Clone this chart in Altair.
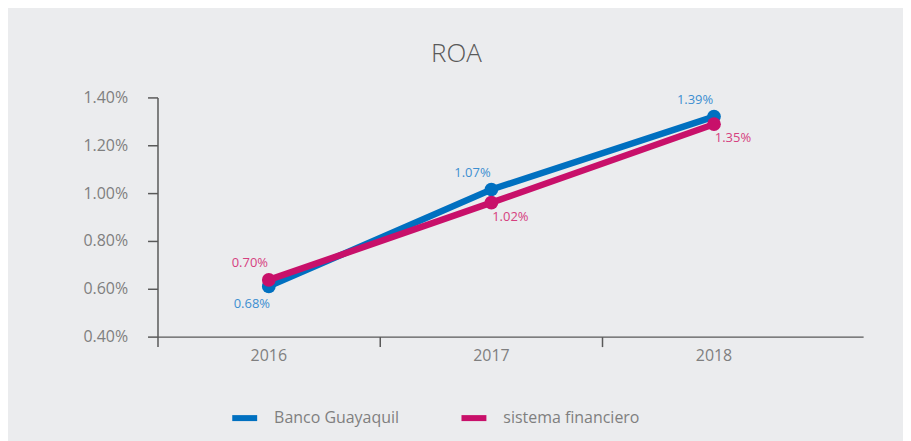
import altair as alt
import pandas as pd

years = ["2016", "2017", "2018"]
series = ["Banco Guayaquil", "sistema financiero"]
banco_vals = [0.61, 1.015, 1.32]          # plotted position (%)
sistema_vals = [0.637, 0.96, 1.288]
banco_labels = ["0.68%", "1.07%", "1.39%"]
sistema_labels = ["0.70%", "1.02%", "1.35%"]
y_ticks = [0.40, 0.60, 0.80, 1.00, 1.20, 1.40]

rows = []
for y, v, l in zip(years, banco_vals, banco_labels):
    rows.append({"year": y, "serie": series[0], "value": v / 100, "label": l})
for y, v, l in zip(years, sistema_vals, sistema_labels):
    rows.append({"year": y, "serie": series[1], "value": v / 100, "label": l})
df = pd.DataFrame(rows)

FONT = "Open Sans"
GRAY = "#7f7f7f"
AXIS = "#595959"
BLUE = "#0070c0"
MAG = "#c8106a"

x = alt.X("year:N", title=None,
          scale=alt.Scale(type="band", paddingInner=0, paddingOuter=0.085, align=0),
          axis=alt.Axis(bandPosition=0, labelAngle=0,
                        domainColor=AXIS, tickColor=AXIS, tickSize=10,
                        domainWidth=1.5, tickWidth=1.5,
                        labelColor=GRAY, labelFontSize=16, labelFont=FONT,
                        labelPadding=1, grid=False))
y = alt.Y("value:Q", title=None,
          scale=alt.Scale(domain=[0.004, 0.014], nice=False, zero=False),
          axis=alt.Axis(values=[t / 100 for t in y_ticks], format=".2%",
                        domainColor=AXIS, tickColor=AXIS, tickSize=10,
                        domainWidth=1.5, tickWidth=1.5,
                        labelColor=GRAY, labelFontSize=16, labelFont=FONT,
                        labelPadding=20, grid=False))
color = alt.Color("serie:N", title=None,
                  scale=alt.Scale(domain=series, range=[BLUE, MAG]),
                  legend=alt.Legend(orient="none", legendX=72, legendY=306,
                                    direction="horizontal",
                                    symbolType="stroke", symbolStrokeWidth=6,
                                    symbolSize=625, labelFontSize=16,
                                    labelFont=FONT, labelColor=GRAY,
                                    labelOffset=14, columnPadding=50,
                                    labelLimit=300,
                                    labelExpr="datum.value == 'sistema financiero' ? '\u00a0\u00a0\u00a0\u00a0' + datum.value : datum.value"))

base = alt.Chart(df)
line = base.mark_line(strokeWidth=6.5).encode(x=x, y=y, color=color)
pts = base.mark_point(filled=True, size=190, opacity=1).encode(x=x, y=y, color=color)

lab_color = alt.condition("datum.serie == 'Banco Guayaquil'", alt.value("#3d8fd1"), alt.value("#d6407f"))

def lab(filt, dx, dy):
    return base.mark_text(fontSize=13, font=FONT, dx=dx, dy=dy).encode(
        x=x, y=y, text="label:N", color=lab_color).transform_filter(filt)

up_left = lab("(datum.serie == 'Banco Guayaquil' && datum.year != '2016') || (datum.serie == 'sistema financiero' && datum.year == '2016')", -19, -17)
down_left = lab("datum.serie == 'Banco Guayaquil' && datum.year == '2016'", -17, 18)
down_right = lab("datum.serie == 'sistema financiero' && datum.year != '2016'", 19, 14)

chart = alt.layer(line, pts, up_left, down_left, down_right).properties(
    width=708, height=240,
    background="#ebecee",
    padding={"left": 150, "right": 40, "top": 89, "bottom": 104},
    autosize=alt.AutoSizeParams(type="none"),
    title=alt.TitleParams("ROA", fontSize=26, font=FONT, fontWeight=300,
                          color="#595959", anchor="middle", dx=-54, offset=23),
).configure_view(stroke=None)

chart.save("out.html", embed_options={"renderer": "svg", "actions": False})
